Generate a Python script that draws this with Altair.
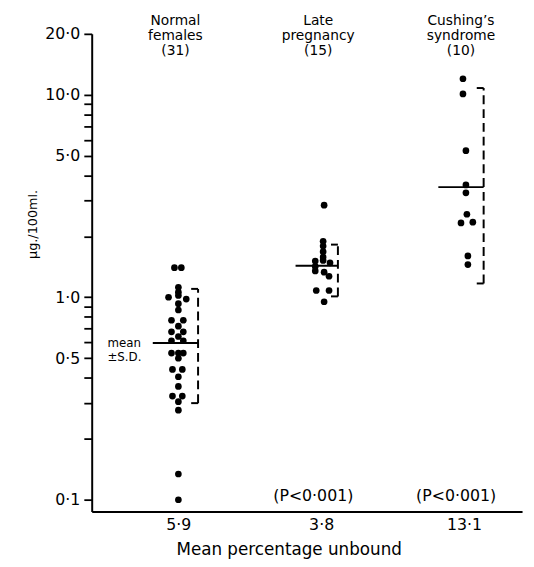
import altair as alt
import pandas as pd

# ---------------- data ----------------
group_index = [1, 2, 3]
group_titles = ["Normal\nfemales\n(31)", "Late\npregnancy\n(15)", "Cushing’s\nsyndrome\n(10)"]
unbound_labels = ["5·9", "3·8", "13·1"]
p_labels = ["", "(P<0·001)", "(P<0·001)"]

# cortisol values (µg./100ml.) and horizontal spread of dots (px) for each group
normal_vals = [1.40, 1.40, 1.12, 1.06, 1.00, 1.02, 0.98, 0.93, 0.865, 0.77, 0.77, 0.72,
               0.675, 0.675, 0.64, 0.61, 0.61, 0.53, 0.53, 0.53, 0.50, 0.44, 0.44,
               0.405, 0.363, 0.325, 0.325, 0.305, 0.277, 0.134, 0.10]
normal_spread = [-4, 3, 0, 0, -10, 0, 8, 0, 0, -7, 5, 0,
                 -7, 5, 0, -7, 5, -7, 0, 5, 0, -6, 4,
                 0, 0, -6, 4, 0, 0, 0, 0]

pregnancy_vals = [2.85, 1.89, 1.79, 1.68, 1.58, 1.51, 1.52, 1.48, 1.42, 1.35, 1.33, 1.27,
                  1.08, 1.08, 0.95]
pregnancy_spread = [3, 2, 2, 2, 2, -6, 2, 9, -6, -6, 3, 8, -5, 8, 3]

cushing_vals = [12.0, 10.1, 5.3, 3.59, 3.28, 2.57, 2.33, 2.35, 1.60, 1.45]
cushing_spread = [-1, -1, 2, 2, 2, 3, -3, 9, 4, 4]

means = [0.595, 1.43, 3.5]
sd_high = [1.10, 1.82, 10.8]
sd_low = [0.30, 1.01, 1.17]

y_ticks = [0.1, 0.2, 0.3, 0.4, 0.5, 0.6, 0.7, 0.8, 0.9, 1, 2, 3, 4, 5, 6, 7, 8, 9, 10, 20]
y_major = [0.1, 0.5, 1, 5, 10, 20]
y_major_labels = ["0·1", "0·5", "1·0", "5·0", "10·0", "20·0"]

# ---------------- layout constants ----------------
PX = 1 / 145.0          # one pixel in x-data units
MEAN_LEFT = -26 * PX    # mean line start relative to group
BRACKET_DX = [20 * PX, 17 * PX, 20 * PX]
BRACKET_TICK = 7 * PX
FONT = "DejaVu Sans"

# ---------------- tables ----------------
rows = []
for gi, vals, spr in zip(group_index,
                         [normal_vals, pregnancy_vals, cushing_vals],
                         [normal_spread, pregnancy_spread, cushing_spread]):
    for v, s in zip(vals, spr):
        rows.append({"g": gi, "value": v, "xpos": gi + s * PX})
pts = pd.DataFrame(rows)

stats = pd.DataFrame({
    "g": group_index,
    "mean": means,
    "hi": sd_high,
    "lo": sd_low,
    "title": group_titles,
    "p": p_labels,
})
stats["mx1"] = stats["g"] + MEAN_LEFT
stats["bx"] = stats["g"] + BRACKET_DX
stats["tx"] = stats["bx"] - BRACKET_TICK

ticks = pd.concat([
    stats[["bx", "tx"]].assign(yv=stats["hi"]),
    stats[["bx", "tx"]].assign(yv=stats["lo"]),
])

p_df = stats[stats["p"] != ""].copy()
p_df["py"] = 0.104

ann = pd.DataFrame({"g": [1], "mean": [means[0]], "txt": ["mean\n±S.D."]})

# ---------------- scales ----------------
xscale = alt.Scale(domain=[0.393, 3.407], nice=False, zero=False)
yscale = alt.Scale(type="log", domain=[0.0875, 20], nice=False)

label_expr_y = " : ".join(
    f"datum.value == {v} ? '{l}'" for v, l in zip(y_major, y_major_labels)
) + " : ''"
label_expr_x = " : ".join(
    f"datum.value == {g} ? '{l}'" for g, l in zip(group_index, unbound_labels)
) + " : ''"

y_axis = alt.Axis(
    values=y_ticks, labelExpr=label_expr_y, title="µg./100ml.",
    grid=False, domainColor="black", domainWidth=2, tickColor="black", tickWidth=1.8,
    tickSize=8, labelFont=FONT, labelFontSize=16, labelColor="black", labelPadding=4,
    titleFont=FONT, titleFontSize=13, titleFontWeight="normal", titleColor="black",
    titleAngle=270, titleX=-60, titleY=193, titleAlign="center", titleBaseline="middle",
)
x_axis = alt.Axis(
    values=group_index, labelExpr=label_expr_x, title="Mean percentage unbound",
    grid=False, domainColor="black", domainWidth=2, ticks=False, labelPadding=5,
    labelFont=FONT, labelFontSize=16, labelColor="black",
    titleFont=FONT, titleFontSize=17, titleFontWeight="normal", titleColor="black",
    titleX=200, titleY=39, titleAlign="center", titleBaseline="middle",
)

base_pts = alt.Chart(pts).mark_circle(size=46, color="black", opacity=1).encode(
    x=alt.X("xpos:Q", scale=xscale, axis=x_axis),
    y=alt.Y("value:Q", scale=yscale, axis=y_axis),
)

mean_lines = alt.Chart(stats).mark_rule(color="black", strokeWidth=2).encode(
    x=alt.X("mx1:Q", scale=xscale, axis=x_axis),
    x2="bx:Q",
    y=alt.Y("mean:Q", scale=yscale, axis=y_axis),
)

brackets = alt.Chart(stats).mark_rule(color="black", strokeWidth=2, strokeDash=[9, 5]).encode(
    x=alt.X("bx:Q", scale=xscale, axis=x_axis),
    y=alt.Y("lo:Q", scale=yscale, axis=y_axis),
    y2="hi:Q",
)

bracket_ticks = alt.Chart(ticks).mark_rule(color="black", strokeWidth=2).encode(
    x=alt.X("tx:Q", scale=xscale, axis=x_axis),
    x2="bx:Q",
    y=alt.Y("yv:Q", scale=yscale, axis=y_axis),
)

titles = alt.Chart(stats).mark_text(
    font=FONT, fontSize=14, lineBreak="\n", lineHeight=15, baseline="top",
    align="center", dx=-3, color="black",
).encode(
    x=alt.X("g:Q", scale=xscale, axis=x_axis),
    y=alt.value(-20),
    text="title:N",
)

p_text = alt.Chart(p_df).mark_text(
    font=FONT, fontSize=16, baseline="middle", align="center", dx=-8, color="black",
).encode(
    x=alt.X("g:Q", scale=xscale, axis=x_axis),
    y=alt.Y("py:Q", scale=yscale, axis=y_axis),
    text="p:N",
)

ann_text = alt.Chart(ann).mark_text(
    font=FONT, fontSize=12, lineBreak="\n", lineHeight=14, baseline="middle",
    align="left", dx=-72, color="black",
).encode(
    x=alt.X("g:Q", scale=xscale, axis=x_axis),
    y=alt.Y("mean:Q", scale=yscale, axis=y_axis),
    text="txt:N",
)

chart = alt.layer(
    base_pts, mean_lines, brackets, bracket_ticks, titles, p_text, ann_text
).properties(
    width=437, height=485,
    padding={"left": 85, "top": 22, "right": 4, "bottom": 44},
    autosize=alt.AutoSizeParams(type="none"),
    background="white",
).configure_view(stroke=None)

chart.save("out.html", embed_options={"renderer": "svg", "actions": False})
